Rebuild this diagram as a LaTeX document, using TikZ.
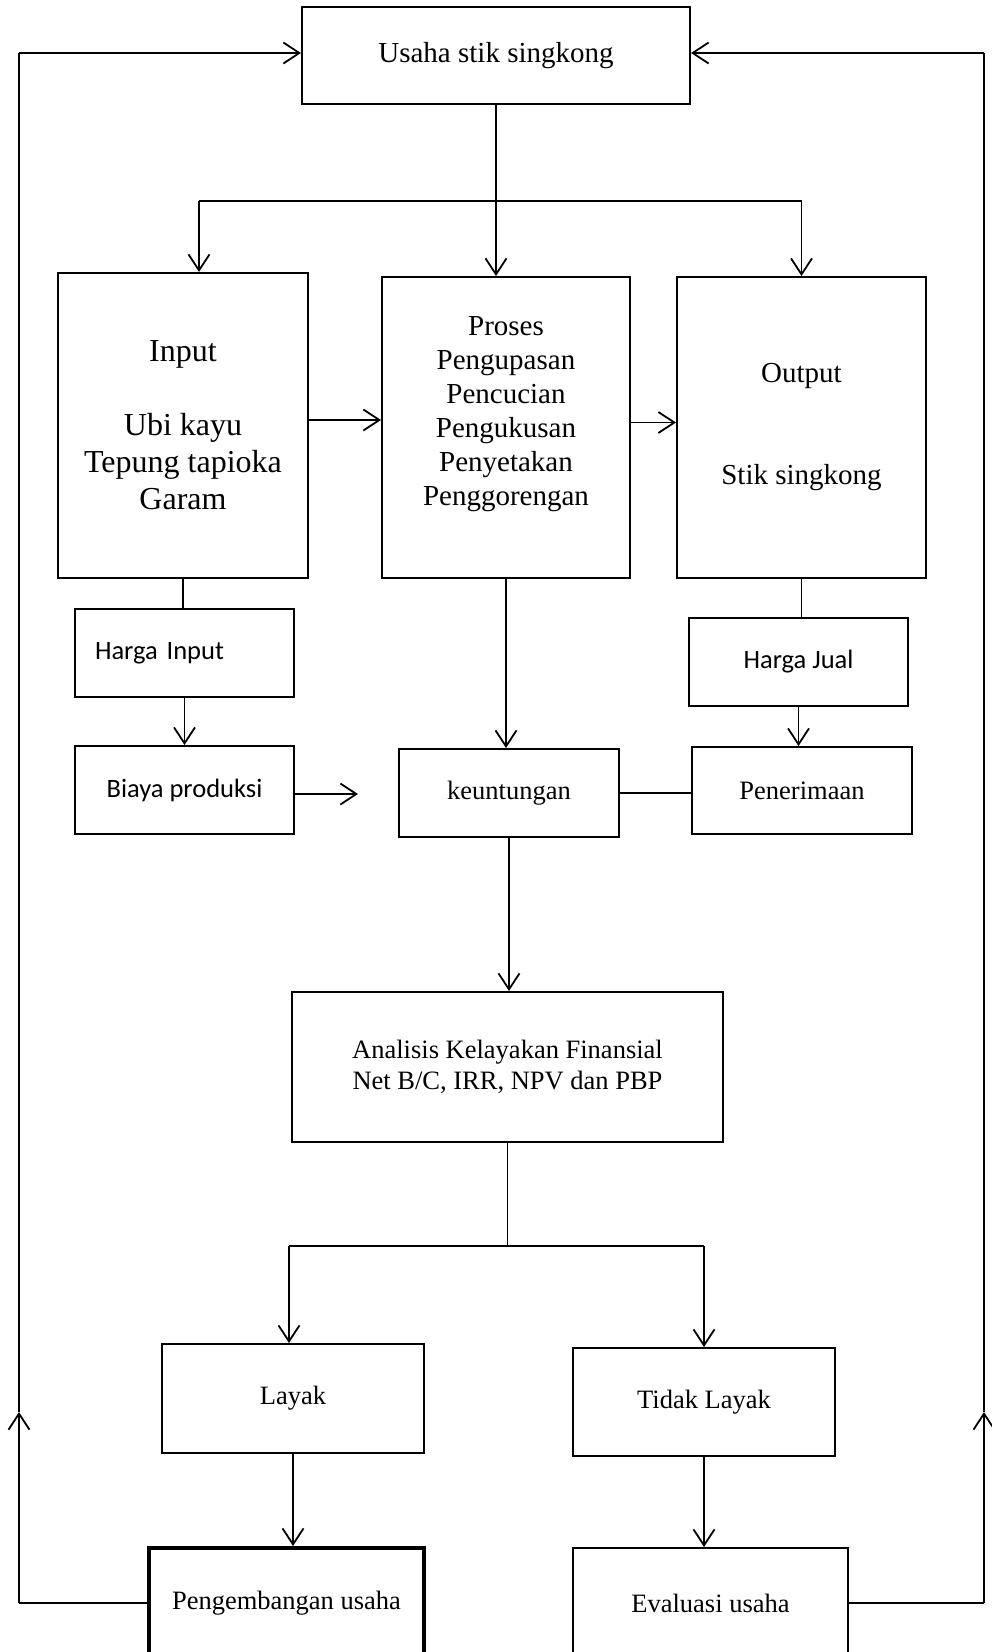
\documentclass[tikz,border=0pt]{standalone}
\usepackage{fontspec}
\setmainfont{Liberation Serif}
\newfontfamily\calibrifont{Carlito}
\usepackage{tikz}
\usetikzlibrary{shapes,arrows.meta,positioning}

\begin{document}
\begin{tikzpicture}[
    x=1pt, y=-1pt,
    kotak/.style={rectangle, draw, line width=2pt, inner sep=0pt, align=center, font=\fontsize{26.5}{31}\selectfont},
    besar/.style={font=\fontsize{29}{34}\selectfont},
    sans/.style={font=\calibrifont\fontsize{26.5}{31}\selectfont},
    arrow/.style={-{Straight Barb[length=16pt,width=21pt]}, line width=1.8pt},
    lurus/.style={line width=1.8pt},
    garis/.style={line width=1.1pt}
]
    \useasboundingbox (0,0) rectangle (991,1652);
    \node[kotak, besar, minimum width=388pt, minimum height=97pt] (usaha) at (496,55.5) {Usaha stik singkong};
    \node[kotak, font=\fontsize{32}{37}\selectfont, minimum width=250pt, minimum height=305pt] (input) at (183,425.5) {Input\\[37pt]Ubi kayu\\Tepung tapioka\\Garam};
    \node[kotak, besar, minimum width=248pt, minimum height=301pt] (proses) at (506,427.5) {Proses\\Pengupasan\\Pencucian\\Pengukusan\\Penyetakan\\Penggorengan\\\mbox{}};
    \node[kotak, besar, minimum width=249pt, minimum height=301pt] (output) at (801.5,427.5) {Output\\[68pt]Stik singkong};
    \node[kotak, sans, align=left, text width=179pt, inner xsep=20pt, minimum height=88pt] (hargainput) at (184.5,653) {Harga Input};
    \node[kotak, sans, minimum width=219pt, minimum height=88pt] (biaya) at (184.5,790) {Biaya produksi};
    \node[kotak, minimum width=220pt, minimum height=88pt] (untung) at (509,793) {keuntungan};
    \node[kotak, sans, minimum width=219pt, minimum height=88pt] (hargajual) at (798.5,662) {Harga Jual};
    \node[kotak, minimum width=220pt, minimum height=87pt] (terima) at (802,790.5) {Penerimaan};
    \node[kotak, minimum width=431pt, minimum height=150pt] (analisis) at (507.5,1067) {Analisis Kelayakan Finansial\\Net B/C, IRR, NPV dan PBP};
    \node[kotak, minimum width=262pt, minimum height=109pt] (layak) at (293,1398.5) {Layak};
    \node[kotak, minimum width=262pt, minimum height=108pt] (tidak) at (704,1402) {Tidak Layak};
    \node[kotak, line width=4pt, minimum width=275pt, minimum height=110pt] (kembang) at (286.5,1603) {Pengembangan usaha};
    \node[kotak, minimum width=275pt, minimum height=110pt] (evaluasi) at (710.5,1603) {Evaluasi usaha};

    \coordinate (bagiKiri) at (199,201);
    \coordinate (bagiKanan) at (output.north |- bagiKiri);
    \coordinate (ujungBiaya) at (358,794);
    \coordinate (bagiBawah) at (analisis.south |- 0,1246);
    \coordinate (bawahKiri) at (289,1246);
    \coordinate (bawahKanan) at (tidak.north |- bawahKiri);
    \coordinate (kiriBawah) at (19,1603);
    \coordinate (kiriTengah) at (19,1412);
    \coordinate (kiriAtas) at (19,53);
    \coordinate (kananBawah) at (984,1603);
    \coordinate (kananTengah) at (984,1412);
    \coordinate (kananAtas) at (984,53);

    \draw[arrow] (usaha.south) -- (usaha.south |- proses.north);
    \draw[garis] (bagiKiri) -- (bagiKanan);
    \draw[arrow] (bagiKiri) -- (bagiKiri |- input.north);
    \draw[arrow] (bagiKanan) -- (output.north);
    \draw[arrow] ([yshift=5.5pt]input.east) -- ([yshift=5.5pt]input.east -| proses.west);
    \draw[arrow] ([yshift=5pt]proses.east) -- ([yshift=5pt]proses.east -| output.west);
    \draw[lurus] (input.south) -- (input.south |- hargainput.north);
    \draw[arrow] (hargainput.south) -- (biaya.north);
    \draw[arrow] (biaya.east |- ujungBiaya) -- (ujungBiaya);
    \draw[arrow] (proses.south) -- (proses.south |- untung.north);
    \draw[garis] (untung.east) -- (untung.east -| terima.west);
    \draw[lurus] (output.south) -- (output.south |- hargajual.north);
    \draw[arrow] (hargajual.south) -- (hargajual.south |- terima.north);
    \draw[arrow] (untung.south) -- (untung.south |- analisis.north);
    \draw[garis] (analisis.south) -- (bagiBawah);
    \draw[garis] (bawahKiri) -- (bawahKanan);
    \draw[arrow] (bawahKiri) -- (bawahKiri |- layak.north);
    \draw[arrow] (bawahKanan) -- (tidak.north);
    \draw[arrow] (layak.south) -- (layak.south |- kembang.north);
    \draw[arrow] (tidak.south) -- (tidak.south |- evaluasi.north);
    \draw[garis] (kembang.west) -- (kiriBawah);
    \draw[arrow] (kiriBawah) -- (kiriTengah);
    \draw[garis] (kiriTengah) -- (kiriAtas);
    \draw[arrow] (kiriAtas) -- (kiriAtas -| usaha.west);
    \draw[lurus] (evaluasi.east) -- (kananBawah);
    \draw[arrow] (kananBawah) -- (kananTengah);
    \draw[garis] (kananTengah) -- (kananAtas);
    \draw[arrow] (kananAtas) -- (kananAtas -| usaha.east);
\end{tikzpicture}
\end{document}
